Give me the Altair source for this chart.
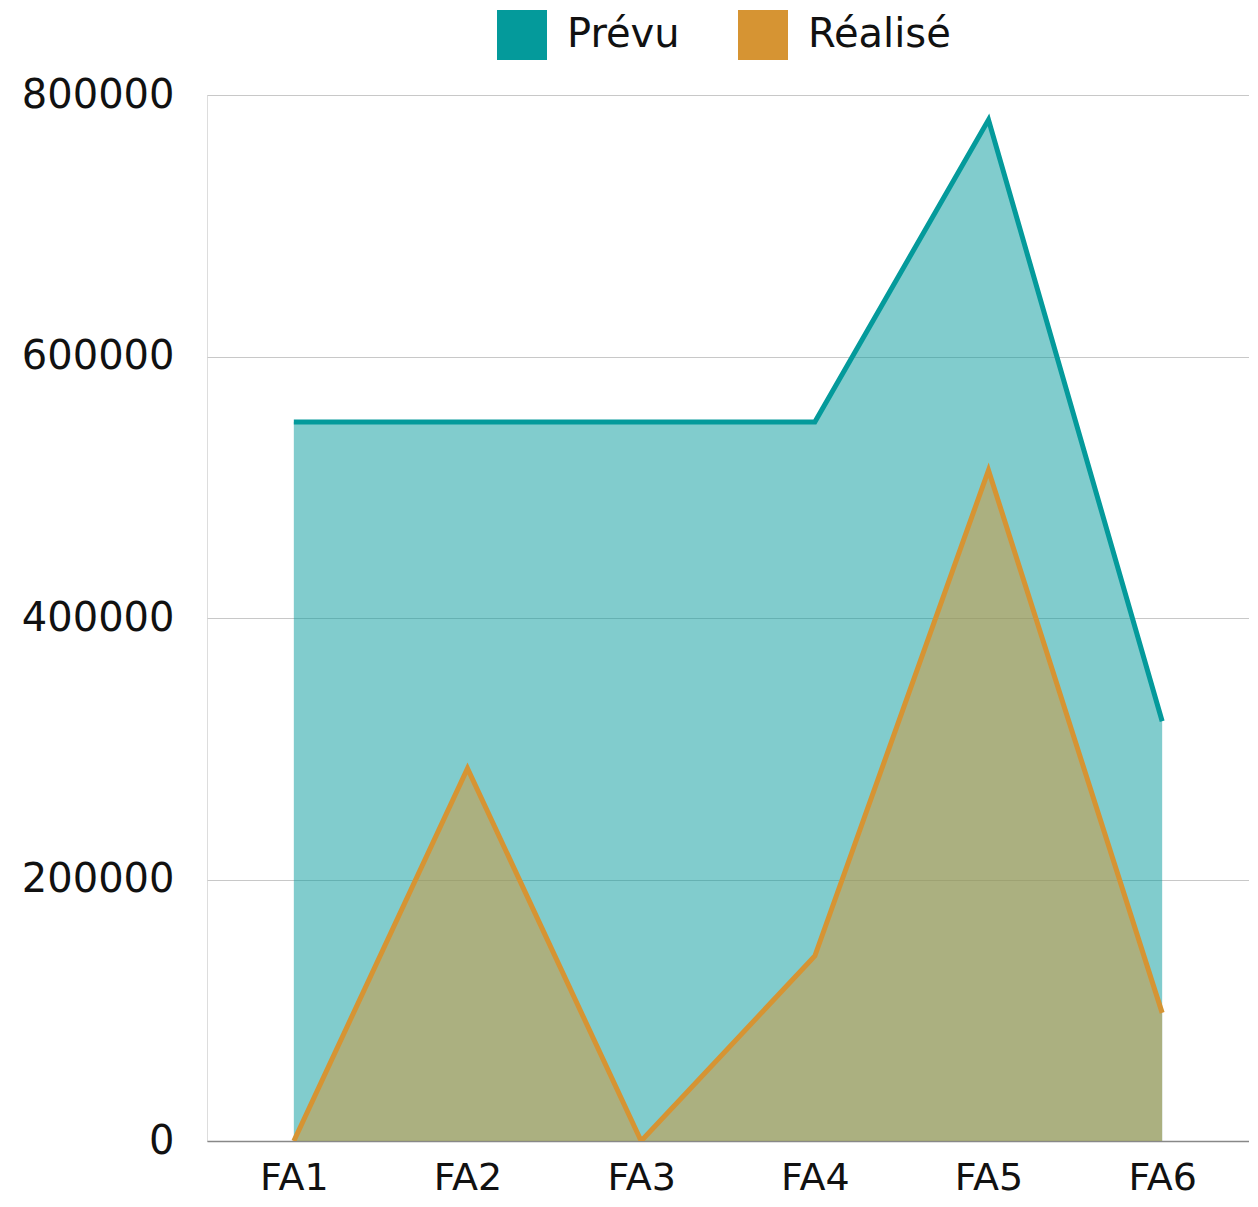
import altair as alt
import pandas as pd

categories = ["FA1", "FA2", "FA3", "FA4", "FA5", "FA6"]
prevu = [550000, 550000, 550000, 550000, 781000, 321000]
realise = [0, 285000, 0, 141500, 513000, 98000]
series_names = ["Prévu", "Réalisé"]
series_colors = ["#049A9B", "#D69433"]
y_ticks = [0, 200000, 400000, 600000, 800000]

rows = []
for name, vals in zip(series_names, [prevu, realise]):
    for c, v in zip(categories, vals):
        rows.append({"cat": c, "value": v, "series": name})
df = pd.DataFrame(rows)

FONT = "DejaVu Sans"

color = alt.Color(
    "series:N",
    scale=alt.Scale(domain=series_names, range=series_colors),
    legend=alt.Legend(
        title=None,
        orient="none",
        legendX=290,
        legendY=-85,
        direction="horizontal",
        symbolType="square",
        symbolSize=2500,
        symbolStrokeWidth=0,
        symbolOpacity=1,
        labelFontSize=40,
        labelFont=FONT,
        labelColor="#111111",
        labelOffset=20,
        columnPadding=58,
        labelLimit=400,
    ),
)

x = alt.X(
    "cat:N",
    sort=categories,
    scale=alt.Scale(type="point", padding=0.5),
    axis=alt.Axis(
        title=None,
        labelAngle=0,
        labelFontSize=38,
        labelFont=FONT,
        labelColor="#111111",
        labelPadding=18,
        ticks=False,
        grid=False,
        domainColor="#888888",
        domainWidth=1.5,
    ),
)
y = alt.Y(
    "value:Q",
    stack=None,
    scale=alt.Scale(domain=[0, 800000], nice=False),
    axis=alt.Axis(
        title=None,
        values=y_ticks,
        format="d",
        labelFontSize=40,
        labelFont=FONT,
        labelColor="#111111",
        labelPadding=33,
        ticks=False,
        domain=False,
        gridColor="#C8C8C8",
        gridWidth=1.2,
    ),
)

base = alt.Chart(df).encode(x=x, y=y, color=color, detail="series:N")

area = base.mark_area(opacity=0.5, clip=True, interpolate="linear")
line = base.mark_line(strokeWidth=5, clip=True, interpolate="linear")

chart = (
    alt.layer(area, line)
    .properties(
        width=1042,
        height=1046,
        autosize=alt.AutoSizeParams(type="none"),
        padding={"left": 199, "top": 87, "right": 0, "bottom": 57},
    )
    .configure_view(stroke="transparent", strokeWidth=0)
    .configure(background="white")
)

chart.save("out.html", embed_options={"renderer": "svg", "actions": False})
